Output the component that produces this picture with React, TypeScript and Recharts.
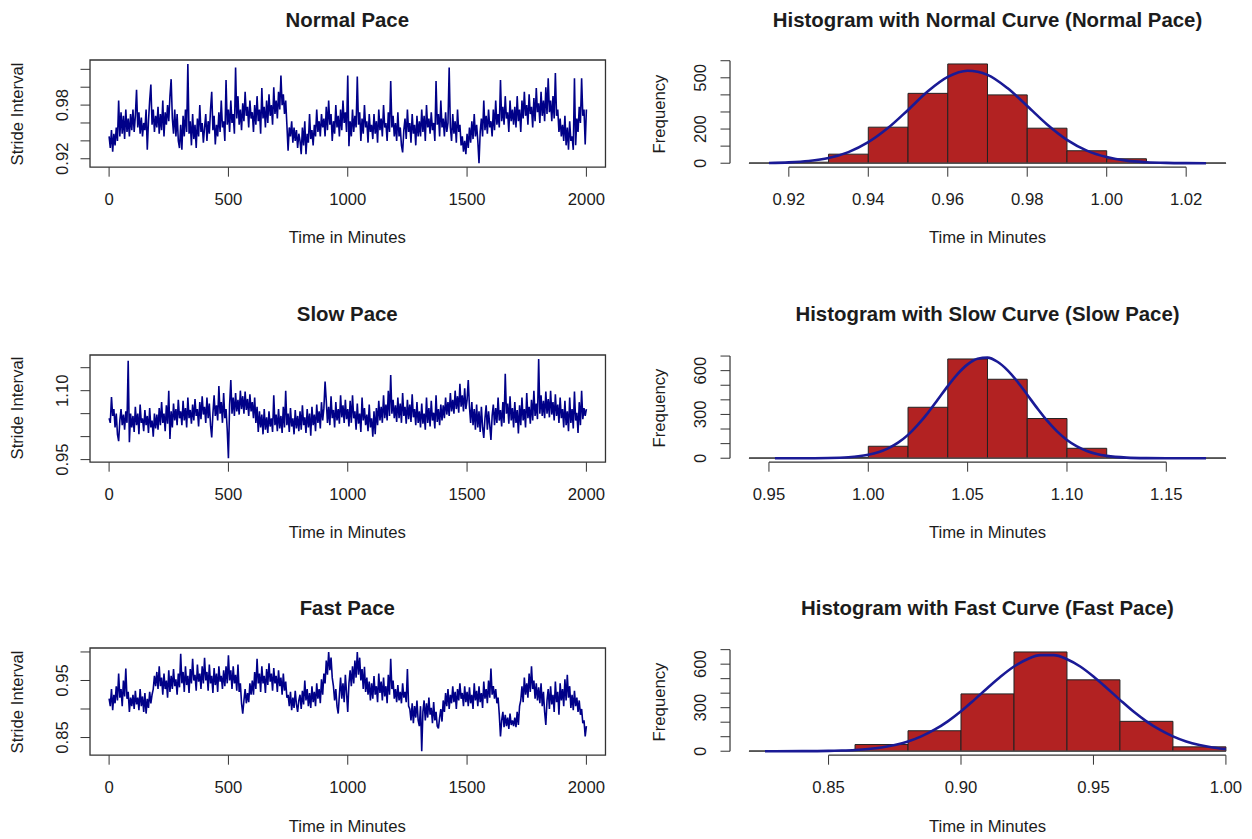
import React from 'react';
import { ComposedChart, Line, XAxis, YAxis, ReferenceArea, ReferenceLine } from 'recharts';

// ---------- stride interval recordings (thousandths of a second, one reading every 5 minutes) ----------
const minuteStep = 5;

const strideNormal = [
  945, 932, 952, 928, 948, 935, 955, 940, 985, 945, 972, 948, 968, 942, 975, 950, 965, 945, 970, 952,
  975, 950, 968, 997, 955, 972, 948, 966, 945, 960, 952, 975, 930, 962, 985, 1003, 958, 975, 950, 968,
  955, 978, 948, 970, 952, 985, 945, 972, 958, 980, 962, 990, 1009, 965, 948, 975, 945, 970, 940, 932,
  958, 930, 968, 945, 975, 950, 1026, 948, 962, 935, 970, 942, 958, 932, 965, 945, 980, 950, 960, 938,
  955, 970, 940, 962, 948, 975, 995, 952, 968, 936, 958, 945, 972, 950, 985, 955, 962, 940, 1008, 958,
  975, 950, 985, 960, 970, 948, 1022, 965, 990, 958, 975, 952, 982, 962, 995, 968, 978, 955, 985, 965,
  972, 950, 980, 958, 990, 962, 975, 948, 999, 965, 978, 955, 985, 960, 992, 968, 980, 958, 1000, 970,
  985, 965, 995, 975, 1013, 980, 992, 970, 985, 958, 929, 955, 945, 962, 938, 955, 940, 952, 932, 948,
  940, 925, 955, 935, 962, 925, 948, 938, 970, 942, 952, 935, 958, 945, 975, 950, 962, 945, 970, 955,
  965, 945, 978, 952, 985, 958, 970, 940, 962, 948, 980, 955, 968, 945, 975, 952, 985, 960, 972, 950,
  1013, 934, 962, 945, 975, 950, 968, 955, 1012, 958, 972, 940, 965, 948, 980, 955, 962, 938, 970, 950,
  958, 942, 970, 948, 962, 938, 975, 952, 965, 945, 980, 955, 960, 940, 972, 950, 1007, 955, 968, 945,
  960, 940, 972, 945, 955, 935, 927, 952, 965, 942, 975, 950, 960, 938, 970, 948, 958, 935, 968, 945,
  962, 945, 975, 950, 968, 940, 980, 955, 965, 948, 972, 952, 960, 940, 1007, 958, 970, 945, 985, 955,
  965, 945, 972, 950, 960, 1022, 955, 940, 970, 948, 962, 938, 975, 950, 958, 935, 945, 928, 940, 925,
  948, 932, 955, 938, 962, 942, 970, 945, 958, 940, 915, 950, 965, 945, 985, 952, 968, 948, 975, 955,
  962, 945, 975, 952, 985, 958, 970, 955, 1008, 962, 978, 958, 990, 965, 972, 950, 985, 962, 975, 958,
  978, 955, 990, 962, 975, 950, 985, 965, 995, 968, 980, 958, 992, 970, 978, 955, 988, 962, 999, 972,
  982, 960, 995, 968, 985, 962, 1000, 970, 1010, 972, 985, 962, 990, 965, 1016, 968, 975, 950, 965, 945,
  958, 940, 968, 935, 955, 930, 962, 940, 945, 930, 1010, 935, 965, 950, 978, 960, 1010, 968, 975, 936,
  975,
];

const strideSlow = [
  1040, 1030, 1086, 1045, 1060, 1020, 1050, 1005, 990, 1035, 1060, 1025, 1048, 1015, 1055, 1030, 1165, 988, 1050, 1020,
  1045, 1010, 1065, 1025, 1050, 1005, 1070, 1030, 1040, 1012, 1058, 1025, 1045, 1008, 1062, 1020, 1035, 1000, 1050, 1018,
  1048, 1015, 1062, 1025, 1075, 1030, 1050, 1012, 1068, 1028, 1100, 995, 1055, 1020, 1072, 1035, 1060, 1025, 1080, 1040,
  1055, 1025, 1078, 1035, 1062, 1020, 1085, 1040, 1058, 1028, 1070, 1035, 1082, 1045, 1060, 1022, 1075, 1038, 1088, 1048,
  1065, 1030, 1085, 1040, 1072, 1025, 998, 1050, 1090, 1045, 1068, 1035, 1110, 1050, 1075, 1030, 1095, 1040, 1060, 1015,
  953, 1070, 1123, 1050, 1085, 1045, 1095, 1055, 1080, 1048, 1100, 1060, 1088, 1050, 1098, 1058, 1082, 1045, 1092, 1055,
  1075, 1040, 1085, 1030, 1065, 1010, 1055, 1020, 1048, 1005, 1060, 1015, 1042, 1008, 1055, 1022, 1040, 1010, 1090, 1025,
  1048, 1012, 1060, 1018, 1045, 1008, 1065, 1020, 1100, 1025, 1050, 1010, 1062, 1022, 1040, 1005, 1058, 1018, 1045, 1012,
  1055, 1015, 1068, 1025, 1042, 1008, 1060, 1020, 1050, 1002, 1065, 1025, 1048, 1012, 1070, 1030, 1055, 1018, 1075, 1035,
  1062, 1120, 1078, 1030, 1065, 1025, 1088, 1040, 1058, 1020, 1075, 1035, 1060, 1028, 1090, 1042, 1068, 1030, 1080, 1038,
  1060, 1022, 1078, 1030, 1090, 1040, 1055, 1015, 1072, 1028, 1050, 1010, 1085, 1035, 1062, 1025, 1048, 1012, 1070, 1020,
  1040, 1000, 1055, 1005, 1062, 1025, 1078, 1035, 1065, 1030, 1090, 1040, 1070, 1035, 1100, 1045, 1134, 1050, 1080, 1040,
  1068, 1032, 1085, 1040, 1072, 1030, 1095, 1045, 1065, 1028, 1080, 1038, 1070, 1032, 1092, 1042, 1060, 1025, 1075, 1030,
  1055, 1020, 1072, 1028, 1050, 1015, 1085, 1030, 1062, 1022, 1078, 1035, 1052, 1018, 1090, 1032, 1060, 1025, 1070, 1035,
  1068, 1040, 1085, 1048, 1075, 1045, 1095, 1055, 1080, 1050, 1100, 1060, 1088, 1052, 1115, 1065, 1090, 1055, 1105, 1060,
  1080, 1123, 1065, 1030, 1075, 1025, 1060, 1015, 1070, 1020, 1055, 1010, 1065, 1020, 997, 1040, 1068, 1015, 1055, 1025,
  993, 1045, 1070, 1025, 1062, 1030, 1085, 1035, 1058, 1022, 1075, 1030, 1137, 1050, 1072, 1028, 1088, 1035, 1062, 1020,
  1075, 1030, 1058, 1007, 1068, 1025, 1085, 1035, 1060, 1020, 1095, 1040, 1065, 1028, 1080, 1035, 1100, 1045, 1072, 1038,
  1169, 1050, 1090, 1045, 1078, 1040, 1098, 1050, 1082, 1042, 1100, 1048, 1075, 1035, 1092, 1045, 1070, 1030, 1085, 1040,
  1060, 1020, 1078, 1025, 1055, 1012, 1085, 1030, 1060, 1018, 1098, 1035, 1052, 1008, 1075, 1025, 1100, 1038, 1062, 1045,
  1060,
];

const strideFast = [
  918, 905, 935, 898, 925, 910, 940, 915, 962, 920, 935, 905, 950, 922, 971, 918, 930, 895, 920, 905,
  925, 900, 932, 908, 920, 898, 935, 905, 922, 895, 928, 892, 918, 902, 930, 910, 925, 935, 958, 940,
  965, 935, 975, 940, 955, 925, 962, 935, 950, 920, 968, 930, 958, 935, 970, 940, 952, 925, 962, 938,
  997, 945, 965, 930, 975, 942, 958, 928, 970, 945, 988, 950, 960, 932, 978, 948, 962, 935, 975, 945,
  990, 950, 965, 932, 978, 945, 958, 928, 972, 942, 962, 930, 975, 948, 958, 935, 968, 940, 975, 945,
  994, 950, 968, 935, 975, 945, 960, 932, 978, 930, 945, 910, 892, 915, 935, 910, 928, 912, 945, 925,
  950, 925, 965, 935, 988, 945, 962, 930, 975, 945, 958, 928, 970, 942, 980, 948, 962, 932, 972, 945,
  958, 930, 968, 940, 955, 925, 962, 932, 948, 920, 925, 905, 930, 898, 920, 902, 932, 908, 895, 915,
  925, 900, 932, 908, 950, 915, 935, 905, 928, 902, 940, 912, 930, 905, 945, 918, 935, 910, 952, 925,
  962, 945, 985, 960, 1000, 968, 990, 955, 940, 915, 935, 905, 892, 925, 955, 918, 945, 912, 960, 928,
  895, 945, 968, 940, 975, 945, 985, 955, 1000, 960, 990, 950, 970, 935, 974, 930, 955, 925, 948, 915,
  945, 918, 958, 925, 940, 912, 962, 928, 948, 915, 955, 922, 940, 910, 960, 925, 988, 935, 950, 918,
  935, 912, 942, 915, 930, 910, 945, 920, 930, 912, 970, 905, 900, 880, 910, 875, 905, 885, 915, 880,
  870, 905, 826, 895, 915, 880, 910, 885, 920, 890, 902, 875, 912, 880, 895, 870, 866, 885, 900, 878,
  915, 895, 928, 905, 935, 900, 925, 910, 940, 912, 930, 900, 935, 915, 945, 918, 928, 905, 940, 912,
  930, 905, 938, 910, 925, 900, 945, 915, 932, 905, 940, 912, 928, 902, 948, 918, 935, 910, 950, 920,
  971, 925, 940, 918, 935, 910, 920, 890, 852, 880, 895, 868, 890, 870, 885, 865, 892, 872, 880, 870,
  885, 868, 895, 872, 905, 915, 940, 912, 955, 925, 945, 920, 962, 930, 975, 935, 950, 918, 945, 915,
  938, 910, 945, 905, 930, 895, 872, 915, 935, 900, 940, 908, 925, 895, 948, 912, 930, 890, 945, 915,
  935, 905, 952, 915, 960, 920, 940, 902, 925, 898, 932, 905, 920, 895, 915, 890, 900, 875, 880, 852,
  870,
];

const timeTicks = [0, 500, 1000, 1500, 2000];

const normalStrideTicks = [0.92, 0.94, 0.96, 0.98, 1.0, 1.02];
const normalStrideLabels = [0.92, 0.98];
const slowStrideTicks = [0.95, 1.0, 1.05, 1.1, 1.15];
const slowStrideLabels = [0.95, 1.1];
const fastStrideTicks = [0.85, 0.9, 0.95, 1.0];
const fastStrideLabels = [0.85, 0.95];

// ---------- histogram bins and fitted normal curves ----------
const normalBreaks = [0.91, 0.92, 0.93, 0.94, 0.95, 0.96, 0.97, 0.98, 0.99, 1.0, 1.01, 1.02, 1.03];
const normalCounts = [1, 6, 53, 211, 409, 581, 400, 205, 73, 26, 2, 1];
const normalCurveX = [0.915, 0.92, 0.925, 0.93, 0.935, 0.94, 0.945, 0.95, 0.955, 0.96, 0.965, 0.97, 0.975,
  0.98, 0.985, 0.99, 0.995, 1.0, 1.005, 1.01, 1.015, 1.02, 1.025];
const normalCurveY = [1.6, 4.8, 12.7, 30, 65, 123, 207, 312, 421, 505, 541, 517, 440,
  335, 227, 137, 74, 36, 15, 6, 2, 0.6, 0.2];
const normalHistTicks = [0.92, 0.94, 0.96, 0.98, 1.0, 1.02];
const normalFreqTicks = [0, 100, 200, 300, 400, 500, 600];
const normalFreqLabels = [0, 200, 500];

const slowBreaks = [0.94, 0.96, 0.98, 1.0, 1.02, 1.04, 1.06, 1.08, 1.1, 1.12, 1.14, 1.16, 1.18];
const slowCounts = [1, 0, 5, 82, 349, 680, 541, 272, 68, 4, 1, 1];
const slowCurveX = [0.953, 0.96, 0.97, 0.98, 0.99,
  0.995, 1.0, 1.005, 1.01, 1.015, 1.02, 1.025, 1.03, 1.035, 1.04, 1.045, 1.05, 1.055, 1.06, 1.065,
  1.07, 1.075, 1.08, 1.085, 1.09, 1.095, 1.1, 1.105, 1.11, 1.115, 1.12,
  1.13, 1.14, 1.15, 1.16, 1.17];
const slowCurveY = [0, 0.05, 0.3, 1.6, 6.8,
  13, 23.7, 41, 68, 107, 160, 230, 311, 402, 494, 578, 643, 682, 689, 661,
  604, 526, 435, 343, 257, 184, 125, 81, 50, 29, 16,
  4.3, 1, 0.2, 0, 0];
const slowHistTicks = [0.95, 1.0, 1.05, 1.1, 1.15];
const slowFreqTicks = [0, 100, 200, 300, 400, 500, 600, 700];
const slowFreqLabels = [0, 300, 600];

const fastBreaks = [0.82, 0.84, 0.86, 0.88, 0.9, 0.92, 0.94, 0.96, 0.98, 1.0];
const fastCounts = [1, 2, 46, 141, 395, 684, 492, 206, 30];
const fastCurveX = [0.826, 0.83, 0.84, 0.85,
  0.855, 0.86, 0.865, 0.87, 0.875, 0.88, 0.885, 0.89, 0.895, 0.9, 0.905, 0.91, 0.915, 0.92, 0.925,
  0.93, 0.935, 0.94, 0.945, 0.95, 0.955, 0.96, 0.965, 0.97, 0.975, 0.98, 0.985, 0.99, 0.995, 1.0];
const fastCurveY = [0, 0.1, 0.5, 2.3,
  4.5, 8.3, 15, 26, 43, 67, 102, 148, 206, 275, 354, 436, 515, 584, 634,
  662, 662, 634, 584, 515, 436, 354, 275, 206, 148, 102, 67, 43, 26, 15];
const fastHistTicks = [0.85, 0.9, 0.95, 1.0];
const fastFreqTicks = [0, 100, 200, 300, 400, 500, 600, 700];
const fastFreqLabels = [0, 300, 600];

// ---------- layout ----------
const FONT = "'Liberation Sans', Arial, Helvetica, sans-serif";
const INK = '#1c1c1c';
const FRAME = '#333333';
const PLOT_H = 107.2;
const ROW_TOPS = [60, 354.7, 648.3];
const LEFT_COL = { x0: 89.5, x1: 605 };
const RIGHT_COL = { x0: 730, x1: 1245 };
const PAD = { top: 60, left: 90, right: 20, bottom: 90 };
const AXIS_W = 50;
const AXIS_H = 50;
const TICK_LEN = 9.5;
const TITLE_SIZE = 20.4;
const LABEL_SIZE = 16.7;

const hasValue = (list: number[], v: number) => list.some((l) => Math.abs(l - v) < 1e-9);

// R-style extended range (4% on each side)
const padRange = (lo: number, hi: number): [number, number] => {
  const d = (hi - lo) * 0.04;
  return [lo - d, hi + d];
};

function Txt({ x, y, size, bold, rotate, children }: any) {
  return (
    <div
      style={{
        position: 'absolute',
        left: x,
        top: y,
        transform: `translate(-50%, -50%)${rotate ? ' rotate(-90deg)' : ''}`,
        fontFamily: FONT,
        fontSize: size,
        fontWeight: bold ? 700 : 400,
        color: INK,
        whiteSpace: 'nowrap',
        lineHeight: 1,
      }}
    >
      {children}
    </div>
  );
}

const makeYTick = (labels: number[], offset: number, fmt: (v: number) => string) => (props: any) => {
  const { x, y, payload } = props;
  if (!hasValue(labels, payload.value)) return <g />;
  const cx = x - offset;
  return (
    <text
      x={cx}
      y={y}
      transform={`rotate(-90 ${cx} ${y})`}
      textAnchor="middle"
      dominantBaseline="central"
      fontFamily={FONT}
      fontSize={LABEL_SIZE}
      fill={INK}
    >
      {fmt(payload.value)}
    </text>
  );
};

const makeXTick = (fmt: (v: number) => string) => (props: any) => {
  const { x, y, payload } = props;
  return (
    <text
      x={x}
      y={y + 23.2}
      textAnchor="middle"
      dominantBaseline="central"
      fontFamily={FONT}
      fontSize={LABEL_SIZE}
      fill={INK}
    >
      {fmt(payload.value)}
    </text>
  );
};

function chartBox(col: { x0: number; x1: number }, top: number) {
  return {
    style: { position: 'absolute' as const, left: col.x0 - PAD.left, top: top - PAD.top },
    width: col.x1 - col.x0 + PAD.left + PAD.right,
    height: PLOT_H + PAD.top + PAD.bottom,
    margin: { top: PAD.top, right: PAD.right, left: PAD.left - AXIS_W, bottom: PAD.bottom - AXIS_H },
  };
}

function SeriesPanel({ row, title, values, yTicks, yLabels }: any) {
  const top = ROW_TOPS[row];
  const data = values.map((v: number, i: number) => ({ t: i * minuteStep, v: v / 1000 }));
  const vs = data.map((d: any) => d.v);
  const yDomain = padRange(Math.min(...vs), Math.max(...vs));
  const xDomain = padRange(0, data[data.length - 1].t);
  const box = chartBox(LEFT_COL, top);
  const cx = (LEFT_COL.x0 + LEFT_COL.x1) / 2;
  return (
    <>
      <div style={box.style}>
        <ComposedChart width={box.width} height={box.height} data={data} margin={box.margin}>
          <XAxis
            dataKey="t"
            type="number"
            domain={xDomain}
            ticks={timeTicks}
            interval={0}
            allowDataOverflow
            axisLine={false}
            tickSize={TICK_LEN}
            tickMargin={0}
            height={AXIS_H}
            tickLine={{ stroke: FRAME, strokeWidth: 1 }}
            tick={makeXTick((v) => String(v))}
          />
          <YAxis
            type="number"
            domain={yDomain}
            ticks={yTicks}
            interval={0}
            allowDataOverflow
            axisLine={false}
            tickSize={TICK_LEN}
            tickMargin={0}
            width={AXIS_W}
            tickLine={{ stroke: FRAME, strokeWidth: 1 }}
            tick={makeYTick(yLabels, 18, (v) => v.toFixed(2))}
          />
          <Line
            dataKey="v"
            type="linear"
            stroke="#000088"
            strokeWidth={1.6}
            strokeLinejoin="bevel"
            dot={false}
            isAnimationActive={false}
          />
          <ReferenceArea
            x1={xDomain[0]}
            x2={xDomain[1]}
            y1={yDomain[0]}
            y2={yDomain[1]}
            fill="none"
            stroke={FRAME}
            strokeWidth={1.3}
            ifOverflow="visible"
          />
        </ComposedChart>
      </div>
      <Txt x={cx} y={top - 40.5} size={TITLE_SIZE} bold>{title}</Txt>
      <Txt x={cx} y={top + PLOT_H + 71} size={LABEL_SIZE}>Time in Minutes</Txt>
      <Txt x={18} y={top + PLOT_H / 2} size={LABEL_SIZE} rotate>Stride Interval</Txt>
    </>
  );
}

function HistPanel({ row, title, breaks, counts, curveX, curveY, xTicks, yTicks, yLabels }: any) {
  const top = ROW_TOPS[row];
  const data = curveX.map((x: number, i: number) => ({ x, y: curveY[i] }));
  const xDomain = padRange(breaks[0], breaks[breaks.length - 1]);
  const yDomain = padRange(0, Math.max(...counts));
  const box = chartBox(RIGHT_COL, top);
  const cx = (RIGHT_COL.x0 + RIGHT_COL.x1) / 2;
  return (
    <>
      <div style={box.style}>
        <ComposedChart width={box.width} height={box.height} data={data} margin={box.margin}>
          <XAxis
            dataKey="x"
            type="number"
            domain={xDomain}
            ticks={xTicks}
            interval={0}
            allowDataOverflow
            axisLine={false}
            tickSize={TICK_LEN}
            tickMargin={0}
            height={AXIS_H}
            tickLine={{ stroke: FRAME, strokeWidth: 1 }}
            tick={makeXTick((v) => v.toFixed(2))}
          />
          <YAxis
            type="number"
            domain={yDomain}
            ticks={yTicks}
            interval={0}
            allowDataOverflow
            axisLine={false}
            tickSize={TICK_LEN}
            tickMargin={0}
            width={AXIS_W}
            tickLine={{ stroke: FRAME, strokeWidth: 1 }}
            tick={makeYTick(yLabels, 20.5, (v) => String(v))}
          />
          <ReferenceLine
            segment={[{ x: breaks[0], y: 0 }, { x: breaks[breaks.length - 1], y: 0 }]}
            stroke="#555"
            strokeWidth={1.6}
            ifOverflow="visible"
          />
          {counts.map((c: number, i: number) =>
            c > 0 ? (
              <ReferenceArea
                key={i}
                x1={breaks[i]}
                x2={breaks[i + 1]}
                y1={0}
                y2={c}
                fill="#B22222"
                fillOpacity={1}
                stroke="#222"
                strokeWidth={1}
                ifOverflow="visible"
              />
            ) : null
          )}
          <ReferenceLine
            segment={[{ x: xTicks[0], y: yDomain[0] }, { x: xTicks[xTicks.length - 1], y: yDomain[0] }]}
            stroke={FRAME}
            strokeWidth={1.2}
            ifOverflow="visible"
          />
          <ReferenceLine
            segment={[{ x: xDomain[0], y: yTicks[0] }, { x: xDomain[0], y: yTicks[yTicks.length - 1] }]}
            stroke={FRAME}
            strokeWidth={1.2}
            ifOverflow="visible"
          />
          <Line
            dataKey="y"
            type="monotone"
            stroke="#1a1a96"
            strokeWidth={2.6}
            dot={false}
            isAnimationActive={false}
          />
        </ComposedChart>
      </div>
      <Txt x={cx} y={top - 40.5} size={TITLE_SIZE} bold>{title}</Txt>
      <Txt x={cx} y={top + PLOT_H + 71} size={LABEL_SIZE}>Time in Minutes</Txt>
      <Txt x={RIGHT_COL.x0 - 70} y={top + PLOT_H / 2} size={LABEL_SIZE} rotate>Frequency</Txt>
    </>
  );
}

export default function App() {
  return (
    <div style={{ position: 'absolute', left: 0, top: 0, width: 1252, height: 839, background: '#fff', overflow: 'hidden' }}>
      <SeriesPanel row={0} title="Normal Pace" values={strideNormal} yTicks={normalStrideTicks} yLabels={normalStrideLabels} />
      <HistPanel
        row={0}
        title="Histogram with Normal Curve (Normal Pace)"
        breaks={normalBreaks}
        counts={normalCounts}
        curveX={normalCurveX}
        curveY={normalCurveY}
        xTicks={normalHistTicks}
        yTicks={normalFreqTicks}
        yLabels={normalFreqLabels}
      />
      <SeriesPanel row={1} title="Slow Pace" values={strideSlow} yTicks={slowStrideTicks} yLabels={slowStrideLabels} />
      <HistPanel
        row={1}
        title="Histogram with Slow Curve (Slow Pace)"
        breaks={slowBreaks}
        counts={slowCounts}
        curveX={slowCurveX}
        curveY={slowCurveY}
        xTicks={slowHistTicks}
        yTicks={slowFreqTicks}
        yLabels={slowFreqLabels}
      />
      <SeriesPanel row={2} title="Fast Pace" values={strideFast} yTicks={fastStrideTicks} yLabels={fastStrideLabels} />
      <HistPanel
        row={2}
        title="Histogram with Fast Curve (Fast Pace)"
        breaks={fastBreaks}
        counts={fastCounts}
        curveX={fastCurveX}
        curveY={fastCurveY}
        xTicks={fastHistTicks}
        yTicks={fastFreqTicks}
        yLabels={fastFreqLabels}
      />
    </div>
  );
}
